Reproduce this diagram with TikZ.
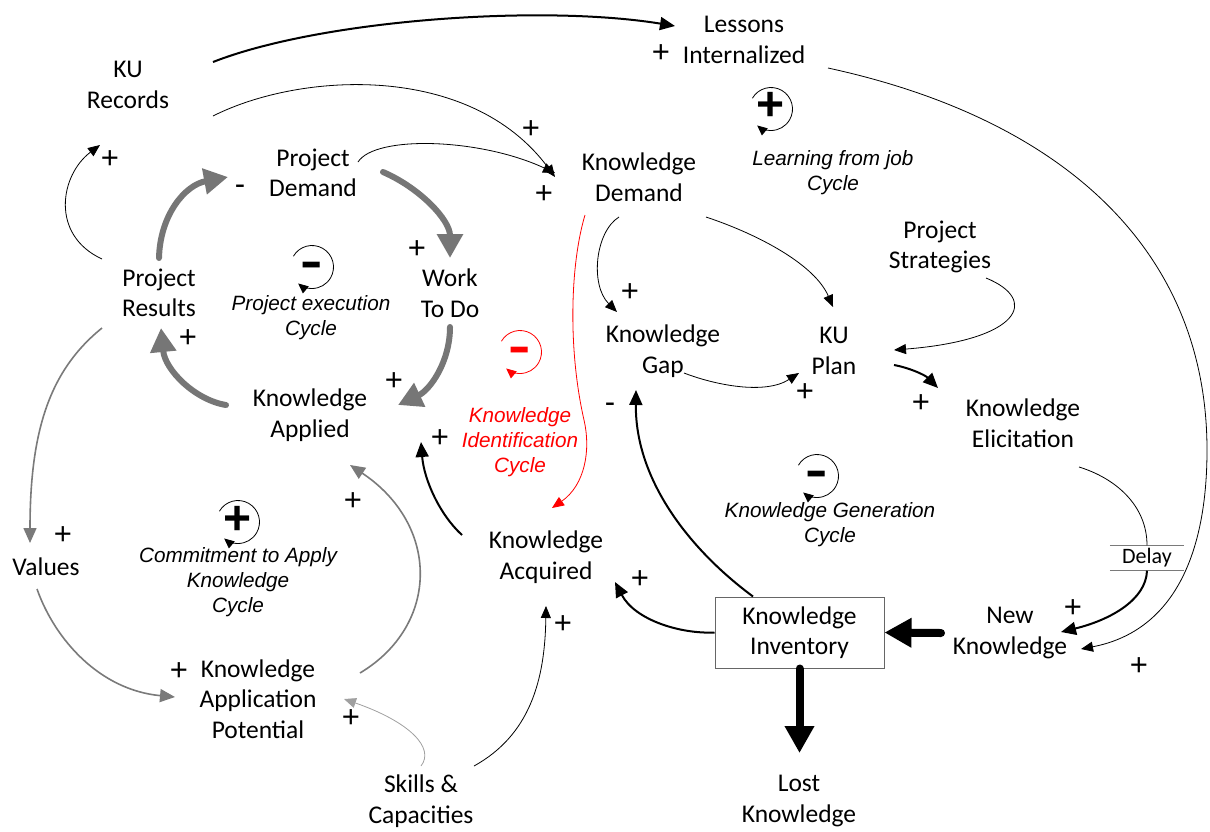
\documentclass[tikz,border=0pt]{standalone}
\usepackage{fontspec}
\setmainfont{Carlito}
\newfontfamily\cycfont{Liberation Sans}
\usetikzlibrary{arrows.meta}
\definecolor{flowgray}{HTML}{767676}
\definecolor{midgray}{HTML}{7A7A7A}
\definecolor{lightgray}{HTML}{A0A0A0}
\definecolor{boxgray}{HTML}{666666}
\begin{document}
\begin{tikzpicture}[x=1pt,y=-1pt,
  var/.style={align=center,font=\fontsize{25.5}{30.5}\selectfont,inner sep=1pt},
  cyc/.style={align=center,font=\cycfont\itshape\fontsize{20.7}{25}\selectfont,inner sep=0pt},
  pol/.style={font=\cycfont\fontsize{31}{31}\selectfont,inner sep=0pt},
  loopsign/.style={font=\cycfont\bfseries\fontsize{48}{48}\selectfont,inner sep=0pt},
  link/.style={-{Triangle[length=12pt,width=10pt]},line width=0.8pt},
  linkb/.style={-{Triangle[length=15pt,width=13pt]},line width=2pt},
  flow/.style={draw=flowgray,line width=6pt,line cap=round,-{Triangle[length=24pt,width=25pt]}},
  gflow/.style={draw=midgray,line width=1.6pt,-{Triangle[length=15pt,width=13pt]}},
  stock/.style={line width=8pt,line cap=round,-{Triangle[length=27pt,width=28pt]}},
  loopmark/.pic={\draw[-{Triangle[length=10pt,width=9pt]},line width=0.8pt]
      (210:21.5) arc[start angle=210,end angle=490,radius=21.5];}
]
\useasboundingbox (0,0) rectangle (1210,831);

% variables
\node[var] (li) at (744,40) {Lessons\\Internalized};
\node[var] (kur) at (128,85) {KU\\Records};
\node[var] (pd) at (313,173) {Project\\Demand};
\node[var] (kd) at (639,177) {Knowledge\\Demand};
\node[var] (pr) at (159,293) {Project\\Results};
\node[var] (wtd) at (450,293) {Work\\To Do};
\node[var] (ps) at (940,247) {Project\\Strategies};
\node[var] (kg) at (663,351) {Knowledge\\Gap};
\node[var] (kup) at (834,351) {KU\\Plan};
\node[var] (ka) at (310,415) {Knowledge\\Applied};
\node[var] (ke) at (1023,423) {Knowledge\\Elicitation};
\node[var] (val) at (46,567) {Values};
\node[var] (kac) at (546,557) {Knowledge\\Acquired};
\node[var,draw=boxgray,line width=1pt,minimum width=169pt,minimum height=71pt] (ki) at (799.5,632.5) {Knowledge\\Inventory};
\node[var] (nk) at (1010,633) {New\\Knowledge};
\node[var] (kap) at (258,699) {Knowledge\\Application\\Potential};
\node[var] (sc) at (421,801) {Skills \&\\Capacities};
\node[var] (lk) at (799,801) {Lost\\Knowledge};
\node[font=\fontsize{22}{26}\selectfont,minimum width=74pt,minimum height=25pt,inner sep=0pt] (dly) at (1147,558) {Delay};
\draw[midgray,line width=1.5pt] (dly.north west) -- (dly.north east) (dly.south west) -- (dly.south east);

% loop names
\node[cyc] (cl) at (833,172.5) {Learning from job\\Cycle};
\node[cyc] (cp) at (311,317.5) {Project execution\\Cycle};
\node[cyc,text=red] (cid) at (520,442) {Knowledge\\Identification\\Cycle};
\node[cyc] (cg) at (830,524.5) {Knowledge Generation\\Cycle};
\node[cyc] (cc) at (238,582) {Commitment to Apply\\Knowledge\\Cycle};

% loop markers
\pic at (771,109) {loopmark};
\node[loopsign] (sl) at (771,106) {+};
\pic at (312,267) {loopmark};
\node[loopsign] (sp) at (312,270) {\scalebox{1.4}[1]{-}};
\pic[red] at (520,352) {loopmark};
\node[loopsign,text=red] (sid) at (520,355) {\scalebox{1.4}[1]{-}};
\pic at (238,522) {loopmark};
\node[loopsign] (sc1) at (238,520) {+};
\pic at (817,476) {loopmark};
\node[loopsign] (sg) at (817,479) {\scalebox{1.4}[1]{-}};

% main project loop (thick grey flows)
\draw[flow] ([shift={(0,-35)}]pr.center) .. controls (160,215) and (185,185) .. ([shift={(-85,4)}]pd.center);
\draw[flow] ([shift={(70,-1)}]pd.center) .. controls (420,188) and (450,220) .. ([shift={(0,-35)}]wtd.center);
\draw[flow] ([shift={(0,34)}]wtd.center) .. controls (450,362) and (430,390) .. ([shift={(88,-10)}]ka.center);
\draw[flow] ([shift={(-84,-10)}]ka.center) .. controls (195,400) and (165,370) .. ([shift={(2,35)}]pr.center);

% commitment loop (grey links)
\draw[gflow] ([shift={(-57,35)}]pr.center) .. controls (50,370) and (30,430) .. ([shift={(-16,-24)}]val.center);
\draw[gflow] ([shift={(-9,22)}]val.center) .. controls (55,640) and (100,690) .. ([shift={(-83,-2)}]kap.center);
\draw[gflow] ([shift={(102,-26)}]kap.center) .. controls (440,625) and (440,525) .. ([shift={(40,50)}]ka.center);
\draw[draw=lightgray,line width=0.8pt,-{Triangle[length=12pt,width=10pt]},lightgray] ([shift={(0,-35)}]sc.center) .. controls (435,748) and (410,722) .. ([shift={(86,0)}]kap.center);

% black links
\draw[linkb] ([shift={(85,-23)}]kur.center) .. controls (320,20) and (540,4) .. ([shift={(-69,-14)}]li.center);
\draw[link] ([shift={(85,31)}]kur.center) .. controls (300,72) and (470,62) .. ([shift={(-84,0)}]kd.center);
\draw[link] ([shift={(45,-11)}]pd.center) .. controls (375,135) and (480,138) .. ([shift={(-84,-4)}]kd.center);
\draw[link] ([shift={(-57,-34)}]pr.center) .. controls (50,235) and (60,175) .. ([shift={(-28,60)}]kur.center);
\draw[link] ([shift={(53,-35)}]sc.center) .. controls (530,735) and (545,680) .. ([shift={(0,49)}]kac.center);
\draw[linkb] ([shift={(-84,-22)}]kac.center) .. controls (440,515) and (424,480) .. ([shift={(111,27)}]ka.center);
\draw[link,red] ([shift={(-54,38)}]kd.center) .. controls (570,265) and (568,350) .. (584,420)
   .. controls (591,450) and (585,485) .. ([shift={(6,-49)}]kac.center);
\draw[link] ([shift={(-20,40)}]kd.center) .. controls (595,232) and (590,285) .. ([shift={(-46,-39)}]kg.center);
\draw[link] ([shift={(67,40)}]kd.center) .. controls (760,235) and (815,265) .. ([shift={(-1,-44)}]kup.center);
\draw[link] ([shift={(46,31)}]ps.center) .. controls (1040,300) and (1020,340) .. ([shift={(60,-1)}]kup.center);
\draw[link] ([shift={(21,22)}]kg.center) .. controls (715,385) and (765,395) .. ([shift={(-35,22)}]kup.center);
\draw[linkb] ([shift={(60,14)}]kup.center) .. controls (910,368) and (925,375) .. ([shift={(-85,-35)}]ke.center);
\draw[link] ([shift={(84,28)}]li.center) .. controls (1063,119) and (1207,250) .. (1207,450)
   .. controls (1207,560) and (1170,632) .. ([shift={(71,16)}]nk.center);
\draw[line width=0.8pt] ([shift={(56,44)}]ke.center) .. controls (1115,478) and (1147,505) .. (dly.north);
\draw[linkb] (dly.south) .. controls (1146,600) and (1110,620) .. ([shift={(51,-1)}]nk.center);
\draw[linkb] (ki.west) .. controls (680,634) and (635,620) .. ([shift={(69,25)}]kac.center);
\draw[linkb] ([xshift=-46.5]ki.north) .. controls (690,550) and (635,480) .. ([shift={(-27,39)}]kg.center);

% stock flows
\draw[stock] ([shift={(-69,0)}]nk.center) -- (ki.east);
\draw[stock] (ki.south) -- ([shift={(0.5,-48)}]lk.center);

% polarities
\node[pol] (p1) at (661,54) {+};
\node[pol] (p2) at (531,130) {+};
\node[pol] (p3) at (544,195) {+};
\node[pol] (p4) at (110,160) {+};
\node[pol] (p5) at (240,190) {-};
\node[pol] (p6) at (417,250) {+};
\node[pol] (p7) at (394,382) {+};
\node[pol] (p8) at (188,339) {+};
\node[pol] (p9) at (630,293) {+};
\node[pol] (p10) at (805,393) {+};
\node[pol] (p11) at (921,404) {+};
\node[pol] (p12) at (610,408) {-};
\node[pol] (p13) at (440,439) {+};
\node[pol] (p14) at (63,536) {+};
\node[pol] (p15) at (179,672) {+};
\node[pol] (p16) at (353,502) {+};
\node[pol] (p17) at (351,719) {+};
\node[pol] (p18) at (563,625) {+};
\node[pol] (p19) at (640,580) {+};
\node[pol] (p20) at (1073,609) {+};
\node[pol] (p21) at (1139,667) {+};
\end{tikzpicture}
\end{document}
